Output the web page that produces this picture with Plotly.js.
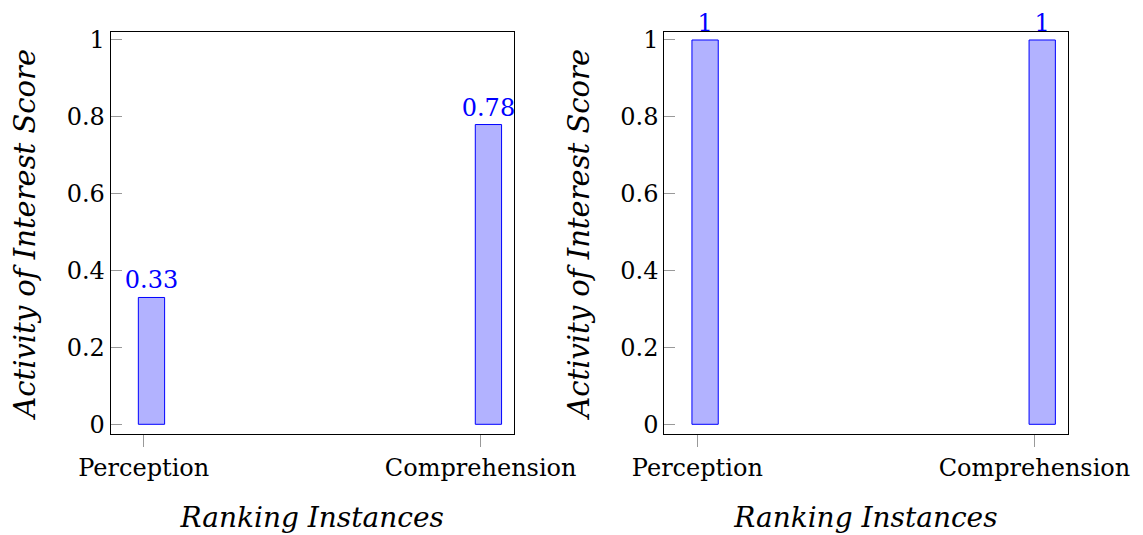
<!DOCTYPE html>
<html>
<head>
<meta charset="utf-8">
<script src="https://cdn.plot.ly/plotly-3.0.1.min.js"></script>
<style>html,body{margin:0;padding:0;background:#fff;}#chart{width:1143px;height:535px;}</style>
</head>
<body>
<div id="chart"></div>
<script>
const categories = ["Perception", "Comprehension"];
const leftValues = [0.33, 0.78];
const rightValues = [1, 1];
const yTickVals = [0, 0.2, 0.4, 0.6, 0.8, 1];
const yTickText = ["0", "0.2", "0.4", "0.6", "0.8", "1"];

const serif = "DejaVu Serif";
const blue = "#0000ff";

function barTrace(vals, xa, ya) {
  return {
    type: "bar",
    x: categories,
    y: vals,
    xaxis: xa,
    yaxis: ya,
    width: 0.078,
    offset: -0.016,
    marker: {color: "rgba(0,0,255,0.3)", line: {color: blue, width: 1}},
    text: vals.map(v => String(v)),
    textposition: "outside",
    constraintext: "none",
    textfont: {family: serif, size: 24, color: blue},
    cliponaxis: false,
    hoverinfo: "skip"
  };
}

function xAxis(domain, anchor) {
  return {
    domain: domain, anchor: anchor, type: "category",
    range: [-0.098, 1.098],
    showline: true, linecolor: "#000", linewidth: 1, mirror: true,
    ticks: "outside", ticklen: 12, tickcolor: "#999", tickwidth: 1,
    showgrid: false, zeroline: false,
    tickfont: {family: serif, size: 24, color: "#000"},
    title: {text: "Ranking Instances", font: {family: serif, size: 28, color: "#000", style: "italic"}, standoff: 26},
    automargin: false
  };
}
function yAxis(domain, anchor) {
  return {
    domain: domain, anchor: anchor,
    range: [-0.026, 1.020],
    tickvals: yTickVals, ticktext: yTickText,
    showline: true, linecolor: "#000", linewidth: 1, mirror: true,
    ticks: "inside", ticklen: 11, tickcolor: "#999", tickwidth: 1,
    showgrid: false, zeroline: false,
    tickfont: {family: serif, size: 24, color: "#000"},
    title: {text: "Activity of Interest Score", font: {family: serif, size: 29, color: "#000", style: "italic"}, standoff: 22},
    automargin: false
  };
}

const yd = [1 - 434.3/535, 1 - 32.3/535];
const layout = {
  width: 1143, height: 535,
  margin: {l: 0, r: 0, t: 0, b: 0},
  paper_bgcolor: "#fff", plot_bgcolor: "#fff",
  showlegend: false,
  xaxis: xAxis([110.7/1143, 513.7/1143], "y"),
  yaxis: yAxis(yd, "x"),
  xaxis2: xAxis([664.3/1143, 1067.5/1143], "y2"),
  yaxis2: yAxis(yd, "x2")
};

Plotly.newPlot("chart", [barTrace(leftValues, "x", "y"), barTrace(rightValues, "x2", "y2")], layout, {staticPlot: true});
</script>
</body>
</html>
